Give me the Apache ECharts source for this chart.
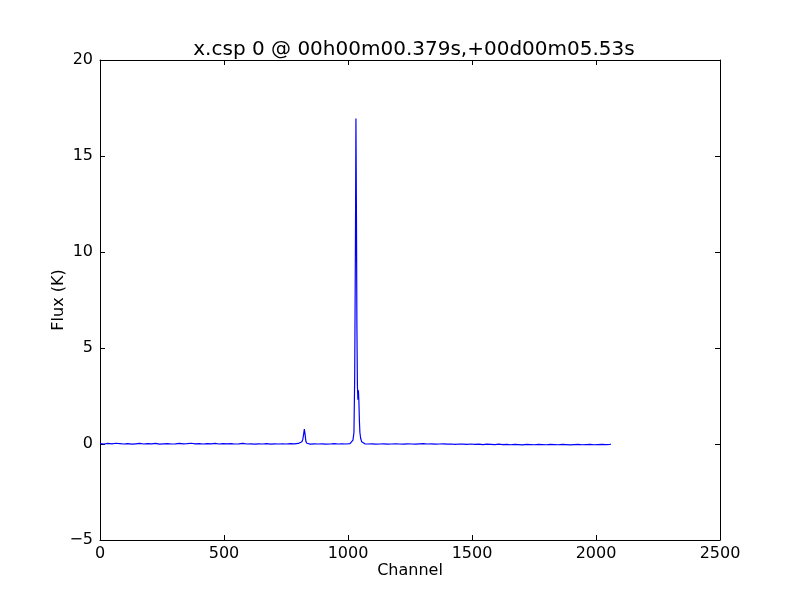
<!DOCTYPE html>
<html>
<head>
<meta charset="utf-8">
<script src="https://cdn.jsdelivr.net/npm/echarts@6/dist/echarts.min.js"></script>
<style>html,body{margin:0;padding:0;background:#fff;}#c{width:800px;height:600px;}</style>
</head>
<body>
<div id="c"></div>
<script>
const titleText = "x.csp 0 @ 00h00m00.379s,+00d00m05.53s";
const xTicks = [0, 500, 1000, 1500, 2000, 2500];
const yTicks = [-5, 0, 5, 10, 15, 20];

const channels = [
  0,16,32,48,64,80,96,112,128,144,160,176,192,208,224,240,256,272,288,304,320,336,352,368,384,400,416,432,448,464,480,496,512,528,544,560,576,592,608,624,640,656,672,688,704,720,736,752,768,784,800,
  808,814,818,821,824,827,830,834,840,848,864,880,896,912,928,944,960,976,992,1008,1016,
  1020,1024,1027,1030,1032,1034,1036,1038,1040,1042,1044,1046,1048,1051,1055,1060,1068,1080,
  1096,1112,1128,1144,1160,1176,1192,1208,1224,1240,1256,1272,1288,1304,1320,1336,1352,1368,1384,1400,1416,1432,1448,1464,1480,1496,1512,1528,1544,1560,1576,1592,1608,1624,1640,1656,1672,1688,1704,1720,1736,1752,1768,1784,1800,1816,1832,1848,1864,1880,1896,1912,1928,1944,1960,1976,1992,2008,2024,2040,2056,2060
];
const flux = [
  0.02,0.00,0.03,0.01,0.04,0.02,0.00,0.02,-0.01,0.01,0.03,0.00,0.02,0.01,0.03,-0.01,0.01,0.02,0.00,0.01,0.03,0.01,0.02,0.04,0.01,0.02,0.00,0.02,0.01,0.03,0.00,0.02,0.01,0.02,0.00,0.01,0.03,0.00,0.01,-0.01,0.01,0.00,0.02,-0.01,0.01,0.00,0.01,0.00,0.02,0.01,0.03,
  0.06,0.12,0.25,0.50,0.78,0.50,0.15,0.04,0.00,-0.01,0.01,0.00,0.01,-0.01,0.00,0.02,0.00,0.01,0.00,0.02,0.06,
  0.20,0.60,3.50,10.50,16.95,12.00,6.00,3.00,2.30,2.80,2.20,1.20,0.60,0.30,0.12,0.04,0.01,0.00,
  0.01,-0.01,0.00,0.01,-0.01,0.00,0.01,0.00,-0.01,0.01,0.00,-0.01,0.01,0.02,0.00,0.01,-0.01,0.00,0.01,-0.01,0.00,-0.02,0.00,-0.01,-0.02,0.00,-0.02,-0.01,-0.03,-0.01,-0.02,-0.03,-0.01,-0.03,-0.02,-0.04,-0.02,-0.03,-0.05,-0.02,-0.03,-0.04,-0.02,-0.03,-0.04,-0.02,-0.03,-0.04,-0.02,-0.03,-0.05,-0.03,-0.02,-0.04,-0.03,-0.02,-0.04,-0.03,-0.02,-0.03,-0.02,-0.01
];

const font = "DejaVu Sans";
const fmt = v => String(v).replace('-', '\u2212');
const data = channels.map((c, i) => [c, flux[i]]);

const axLine = {show: true, onZero: false, lineStyle: {color: '#000', width: 1}};
const tick = {show: true, inside: true, length: 5, lineStyle: {color: '#000', width: 1}};

const chart = echarts.init(document.getElementById('c'), null, {renderer: 'canvas'});
chart.setOption({
  animation: false,
  backgroundColor: '#fff',
  title: {
    text: titleText, left: 409, top: 35, textAlign: 'center',
    textStyle: {fontFamily: font, fontSize: 20, fontWeight: 'normal', color: '#000'}
  },
  grid: {left: 100, right: 80, top: 60, bottom: 60, containLabel: false},
  xAxis: [
    {type: 'value', min: xTicks[0], max: xTicks[xTicks.length-1], interval: 500, position: 'bottom',
     name: 'Channel', nameLocation: 'middle', nameGap: 23, nameMoveOverlap: false,
     nameTextStyle: {fontFamily: font, fontSize: 16, color: '#000'},
     axisLine: axLine, axisTick: tick, splitLine: {show: false},
     axisLabel: {fontFamily: font, fontSize: 16, color: '#000', margin: 6, formatter: fmt}},
    {type: 'value', min: xTicks[0], max: xTicks[xTicks.length-1], interval: 500, position: 'top',
     axisLine: axLine, axisTick: tick, splitLine: {show: false}, axisLabel: {show: false}}
  ],
  yAxis: [
    {type: 'value', min: yTicks[0], max: yTicks[yTicks.length-1], interval: 5, position: 'left',
     name: 'Flux (K)', nameLocation: 'middle', nameGap: 33, nameMoveOverlap: false,
     nameTextStyle: {fontFamily: font, fontSize: 16, color: '#000'},
     axisLine: axLine, axisTick: tick, splitLine: {show: false},
     axisLabel: {fontFamily: font, fontSize: 16, color: '#000', margin: 7, formatter: fmt}},
    {type: 'value', min: yTicks[0], max: yTicks[yTicks.length-1], interval: 5, position: 'right',
     axisLine: axLine, axisTick: tick, splitLine: {show: false}, axisLabel: {show: false}}
  ],
  series: [{
    type: 'line', data: data, xAxisIndex: 0, yAxisIndex: 0,
    showSymbol: false, symbol: 'none', smooth: false,
    lineStyle: {color: '#0000ff', width: 1.2}
  }]
});
</script>
</body>
</html>
